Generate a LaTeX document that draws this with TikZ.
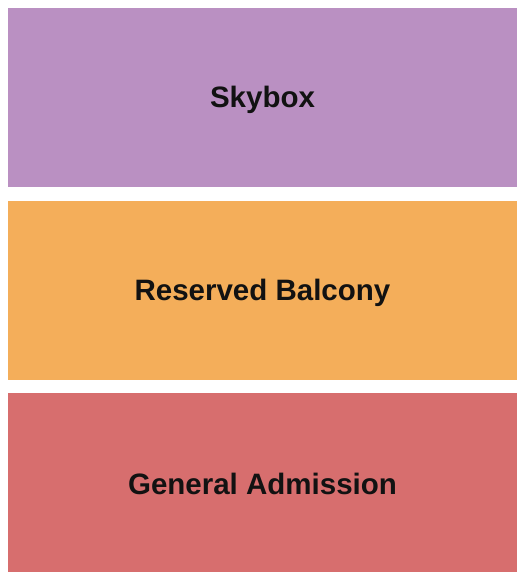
\documentclass[tikz,border=0pt]{standalone}
\usepackage{fontspec}
\setmainfont{Liberation Sans}[BoldFont={Liberation Sans Bold}]
\definecolor{skyc}{HTML}{BA90C2}
\definecolor{resc}{HTML}{F4AE5A}
\definecolor{genc}{HTML}{D76E6E}
\definecolor{txtc}{HTML}{121212}
\begin{document}
\begin{tikzpicture}[x=1pt,y=1pt,
  section/.style={draw=none,inner sep=0pt},
  lbl/.style={font=\fontsize{29.5}{34}\selectfont\bfseries,text=txtc}]
\useasboundingbox (0,0) rectangle (525,580);
\fill[white] (0,0) rectangle (525,580);
\fill[skyc] (8,572) rectangle (517,393);
\fill[resc] (8,379) rectangle (517,200);
\fill[genc] (8,187) rectangle (517,8);
\node[lbl] (sky) at (262.5,480) {Skybox};
\node[lbl] (res) at (262.5,287.5) {Reserved Balcony};
\node[lbl] (gen) at (262.5,96) {General Admission};
\end{tikzpicture}
\end{document}
